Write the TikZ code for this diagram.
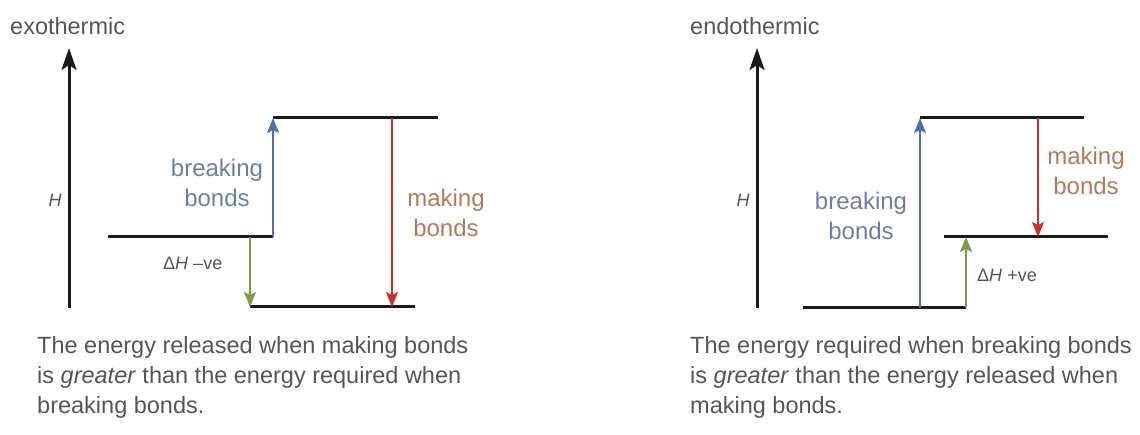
\documentclass[tikz,border=0pt]{standalone}
\usepackage{fontspec}
\setmainfont{Liberation Sans}
\usetikzlibrary{arrows.meta}
\definecolor{txtgray}{HTML}{555555}
\definecolor{bluearr}{HTML}{4F6FA8}
\definecolor{bluetxt}{HTML}{6E7DA3}
\definecolor{redarr}{HTML}{C8302C}
\definecolor{redtxt}{HTML}{B27A5C}
\definecolor{greenarr}{HTML}{7B9E48}
\definecolor{axisc}{HTML}{1A1A1A}
\tikzset{
  level/.style={draw=axisc,line width=3pt},
  axisarrow/.style={draw=axisc,line width=3pt,-{Stealth[length=22pt,width=15pt,inset=5pt]}},
  colarrow/.style={line width=2pt,-{Stealth[length=15pt,width=12pt,inset=3pt]}},
  label/.style={font=\fontsize{24}{30}\selectfont,align=center,inner sep=0pt},
  title/.style={font=\fontsize{23.5}{28}\selectfont,text=txtgray,inner sep=0pt,anchor=base west},
  hlabel/.style={font=\fontsize{18}{22}\selectfont\itshape,text=txtgray,inner sep=0pt},
  dlabel/.style={font=\fontsize{18}{22}\selectfont,text=txtgray,inner sep=0pt,anchor=base west},
  caption/.style={font=\fontsize{23.5}{29.5}\selectfont,text=txtgray,inner sep=0pt,anchor=base west,align=left}
}
\begin{document}
\begin{tikzpicture}[x=1pt,y=-1pt]
\useasboundingbox (0,0) rectangle (1140,435);
% ---------- left: exothermic ----------
\node[title] (t1) at (10,35) {exothermic};
\coordinate (a1b) at (69,308);
\coordinate (a1t) at (69,48);
\draw[axisarrow] (a1b) -- (a1t);
\node[hlabel] (h1) at (55,200) {H};
\coordinate (l1a) at (108,237); \coordinate (l1b) at (273,237);
\coordinate (u1a) at (273,118); \coordinate (u1b) at (438,118);
\coordinate (b1a) at (250,307); \coordinate (b1b) at (415,307);
\draw[level] (l1a) -- (l1b);
\draw[level] (u1a) -- (u1b);
\draw[level] (b1a) -- (b1b);
\coordinate (g1s) at (250,237);
\coordinate (r1s) at (392,118); \coordinate (r1e) at (392,307);
\draw[colarrow,bluearr] (l1b) -- (u1a);
\draw[colarrow,greenarr] (g1s) -- (b1a);
\draw[colarrow,redarr] (r1s) -- (r1e);
\node[label,text=bluetxt,anchor=base] (bb1) at (217,207) {breaking\\bonds};
\node[label,text=redtxt,anchor=base] (mb1) at (446,237) {making\\bonds};
\node[dlabel] (d1) at (163,270) {Δ\textit{H} –ve};
\node[caption] (c1) at (37,413) {The energy released when making bonds\\is \textit{greater} than the energy required when\\breaking bonds.};
% ---------- right: endothermic ----------
\node[title] (t2) at (690,35) {endothermic};
\coordinate (a2b) at (757,308);
\coordinate (a2t) at (757,48);
\draw[axisarrow] (a2b) -- (a2t);
\node[hlabel] (h2) at (743,200) {H};
\coordinate (b2a) at (803,308); \coordinate (b2b) at (966,308);
\coordinate (u2a) at (920,118); \coordinate (u2b) at (1084,118);
\coordinate (m2a) at (944,237); \coordinate (m2b) at (1108,237);
\draw[level] (b2a) -- (b2b);
\draw[level] (u2a) -- (u2b);
\draw[level] (m2a) -- (m2b);
\coordinate (bl2s) at (920,308);
\coordinate (g2e) at (966,237);
\coordinate (r2s) at (1038,118); \coordinate (r2e) at (1038,237);
\draw[colarrow,bluearr] (bl2s) -- (u2a);
\draw[colarrow,greenarr] (b2b) -- (g2e);
\draw[colarrow,redarr] (r2s) -- (r2e);
\node[label,text=bluetxt,anchor=base] (bb2) at (861,240) {breaking\\bonds};
\node[label,text=redtxt,anchor=base] (mb2) at (1086,195) {making\\bonds};
\node[dlabel] (d2) at (977,282) {Δ\textit{H} +ve};
\node[caption] (c2) at (690,413) {The energy required when breaking bonds\\is \textit{greater} than the energy released when\\making bonds.};
\end{tikzpicture}
\end{document}
